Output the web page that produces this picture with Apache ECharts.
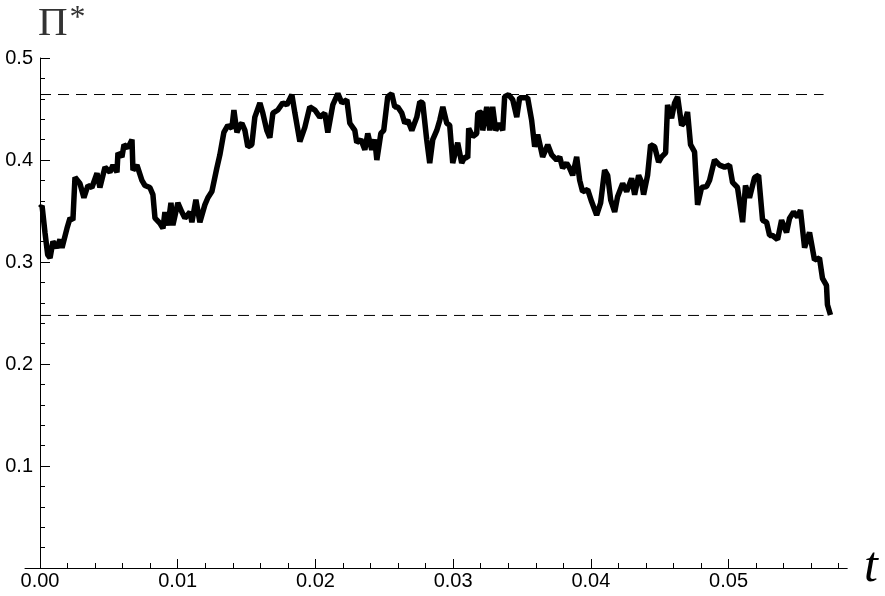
<!DOCTYPE html>
<html>
<head>
<meta charset="utf-8">
<script src="https://cdn.jsdelivr.net/npm/echarts@6/dist/echarts.min.js"></script>
<style>
html,body{margin:0;padding:0;background:#fff;}
#chart{width:885px;height:596px;}
</style>
</head>
<body>
<div id="chart"></div>
<script>
// time values t
var tValues = [
0,0.00015,0.00036,0.00056,0.00073,0.00094,0.00123,0.00145,0.00160,0.00196,
0.00218,0.00239,0.00254,0.00290,0.00319,0.00348,0.00377,0.00414,0.00435,0.00472,
0.00508,0.00530,0.00559,0.00566,0.00595,0.00610,0.00639,0.00668,0.00675,0.00704,
0.00740,0.00762,0.00798,0.00820,0.00835,0.00871,0.00893,0.00907,0.00929,0.00951,
0.00965,0.01001,0.01030,0.01052,0.01089,0.01103,0.01132,0.01161,0.01197,0.01219,
0.01248,0.01284,0.01306,0.01335,0.01364,0.01393,0.01408,0.01430,0.01451,
0.01466,0.01488,0.01509,0.01538,0.01560,0.01597,0.01618,0.01647,0.01669,0.01691,
0.01727,0.01763,0.01792,0.01829,0.01851,0.01887,0.01923,0.01959,0.01996,0.02032,
0.02068,0.02090,0.02126,0.02163,0.02192,0.02228,0.02250,0.02286,0.02300,0.02330,
0.02359,0.02380,0.02409,0.02431,0.02446,0.02475,0.02496,0.02525,0.02554,0.02576,
0.02598,0.02627,0.02649,0.02671,0.02700,0.02736,0.02758,0.02779,0.02808,0.02830,
0.02852,0.02881,0.02903,
0.02925,0.02954,0.02975,0.02997,0.03033,0.03062,0.03084,0.03106,0.03113,0.03142,
0.03171,0.03179,0.03208,0.03215,0.03244,0.03266,0.03287,0.03309,0.03338,0.03360,
0.03374,0.03403,0.03433,0.03462,0.03483,0.03520,0.03541,0.03570,0.03592,0.03614,
0.03650,0.03687,0.03716,0.03752,0.03774,0.03795,0.03824,0.03846,0.03868,0.03897,
0.03919,0.03940,0.03977,0.04006,0.04042,0.04071,0.04100,0.04122,0.04144,0.04173,
0.04194,0.04231,0.04260,0.04296,0.04318,0.04347,
0.04369,0.04383,0.04412,0.04434,0.04463,0.04492,0.04514,0.04543,0.04557,0.04586,
0.04608,0.04630,0.04659,0.04681,0.04702,0.04724,0.04753,0.04775,0.04804,0.04840,
0.04862,0.04898,0.04935,0.04971,0.05007,0.05029,0.05065,0.05102,0.05123,0.05152,
0.05189,0.05218,0.05247,0.05276,0.05298,0.05319,0.05356,0.05385,0.05421,0.05443,
0.05472,0.05501,0.05522,0.05552,0.05588,0.05624,0.05660,0.05682,0.05711,0.05718,
0.05740
];
// Pi* values
var piValues = [
0.353,0.355,0.329,0.307,0.304,0.320,0.314,0.322,0.314,0.333,
0.343,0.341,0.383,0.377,0.363,0.375,0.373,0.387,0.373,0.393,
0.388,0.395,0.388,0.407,0.403,0.415,0.412,0.420,0.390,0.395,
0.380,0.375,0.373,0.366,0.343,0.338,0.333,0.349,0.336,0.358,
0.336,0.358,0.349,0.343,0.349,0.339,0.361,0.339,0.356,0.363,
0.369,0.392,0.405,0.427,0.434,0.431,0.449,0.427,0.434,
0.436,0.429,0.413,0.415,0.442,0.456,0.446,0.429,0.422,0.446,
0.449,0.456,0.454,0.464,0.446,0.418,0.432,0.452,0.449,0.442,
0.446,0.427,0.454,0.465,0.456,0.459,0.436,0.429,0.417,0.420,
0.410,0.426,0.410,0.420,0.400,0.426,0.429,0.462,0.465,0.452,
0.452,0.446,0.436,0.439,0.429,0.442,0.457,0.456,0.420,0.397,
0.420,0.429,0.439,
0.452,0.436,0.434,0.397,0.417,0.397,0.403,0.402,0.431,0.423,
0.426,0.446,0.447,0.429,0.452,0.429,0.452,0.429,0.436,0.429,
0.462,0.464,0.459,0.442,0.461,0.461,0.461,0.439,0.413,0.425,
0.403,0.415,0.405,0.400,0.403,0.392,0.397,0.392,0.385,0.403,
0.380,0.369,0.371,0.359,0.346,0.358,0.390,0.385,0.361,0.349,
0.364,0.377,0.369,0.382,0.366,0.385,
0.378,0.366,0.385,0.415,0.413,0.398,0.403,0.407,0.454,0.441,
0.456,0.462,0.434,0.437,0.447,0.415,0.408,0.356,0.373,0.374,
0.380,0.400,0.395,0.393,0.395,0.378,0.373,0.339,0.375,0.363,
0.383,0.385,0.341,0.339,0.326,0.326,0.322,0.341,0.329,0.343,
0.349,0.344,0.351,0.314,0.329,0.302,0.304,0.284,0.277,0.258,
0.248
];
// reference levels (dashed)
var upperLevel = 0.4642;
var lowerLevel = 0.2476;
var levelStart = 0;
var levelEnd = 0.0569;

// tick values
var xMajorTicks = [0, 0.01, 0.02, 0.03, 0.04, 0.05];
var xMinorTicks = [0.002,0.004,0.006,0.008,0.012,0.014,0.016,0.018,0.022,0.024,0.026,0.028,
  0.032,0.034,0.036,0.038,0.042,0.044,0.046,0.048,0.052,0.054,0.056,0.058];
var yMajorTicks = [0.1, 0.2, 0.3, 0.4, 0.5];
var yMinorTicks = [0.02,0.04,0.06,0.08,0.12,0.14,0.16,0.18,0.22,0.24,0.26,0.28,
  0.32,0.34,0.36,0.38,0.42,0.44,0.46,0.48];

var lineData = tValues.map(function (t, i) { return [t, piValues[i]]; });

var chart = echarts.init(document.getElementById('chart'), null, {renderer: 'canvas'});
var labelFont = {fontFamily: '"Liberation Sans", Arial, sans-serif', fontSize: 20, color: '#000'};
var serif = '"Liberation Serif", "Times New Roman", serif';

chart.setOption({
  animation: false,
  backgroundColor: '#fff',
  title: {
    text: '{a|Π}{b|*}',
    left: 33, top: -2,
    textStyle: {
      rich: {
        a: {fontFamily: serif, fontSize: 41, fontWeight: 'normal', color: '#333'},
        b: {fontFamily: serif, fontSize: 32, fontWeight: 'normal', color: '#333', verticalAlign: 'top', padding: [0,0,10,2]}
      }
    }
  },
  grid: [
    {left: 40, right: 38, top: 58, bottom: 28, containLabel: false, outerBoundsMode: 'none'},
    {left: 25, right: 38, top: 58, bottom: 28, containLabel: false, outerBoundsMode: 'none'}
  ],
  xAxis: [{
    gridIndex: 0, type: 'value', min: 0, max: 0.0586, position: 'bottom',
    axisLine: {show: true, onZero: false, lineStyle: {color: '#000', width: 1}},
    axisTick: {show: true, inside: true, length: 9, customValues: xMajorTicks, lineStyle: {color: '#000', width: 1}},
    axisLabel: Object.assign({show: true, margin: 3, customValues: xMajorTicks,
      formatter: function (v) { return v.toFixed(2); }}, labelFont),
    splitLine: {show: false},
    name: 't', nameLocation: 'end', nameGap: 17,
    nameTextStyle: {fontFamily: serif, fontStyle: 'italic', fontSize: 50, color: '#000', padding: [0,0,14,0]}
  }, {
    gridIndex: 0, type: 'value', min: 0, max: 0.0586, position: 'bottom',
    axisLine: {show: false, onZero: false},
    axisTick: {show: true, inside: true, length: 5, customValues: xMinorTicks, lineStyle: {color: '#000', width: 1}},
    axisLabel: {show: false},
    splitLine: {show: false}
  }, {
    gridIndex: 1, type: 'value', min: 0, max: 1, position: 'bottom',
    axisLine: {show: true, onZero: false, lineStyle: {color: '#000', width: 1}},
    axisTick: {show: false},
    axisLabel: {show: false},
    splitLine: {show: false}
  }],
  yAxis: [{
    gridIndex: 0, type: 'value', min: 0, max: 0.5, position: 'left',
    axisLine: {show: true, onZero: false, lineStyle: {color: '#000', width: 1}},
    axisTick: {show: true, inside: true, length: 10, customValues: yMajorTicks, lineStyle: {color: '#000', width: 1}},
    axisLabel: Object.assign({show: true, margin: 7, customValues: yMajorTicks,
      formatter: function (v) { return v.toFixed(1); }}, labelFont),
    splitLine: {show: false}
  }, {
    gridIndex: 0, type: 'value', min: 0, max: 0.5, position: 'left',
    axisLine: {show: false, onZero: false},
    axisTick: {show: true, inside: true, length: 5, customValues: yMinorTicks, lineStyle: {color: '#000', width: 1}},
    axisLabel: {show: false},
    splitLine: {show: false}
  }, {
    gridIndex: 1, type: 'value', min: 0, max: 1, show: false
  }],
  series: [{
    type: 'line', xAxisIndex: 0, yAxisIndex: 0,
    data: [[levelStart, upperLevel], [levelEnd, upperLevel]],
    symbol: 'none', silent: true, z: 1,
    lineStyle: {color: '#000', width: 1, type: [11, 7]}
  }, {
    type: 'line', xAxisIndex: 0, yAxisIndex: 0,
    data: [[levelStart, lowerLevel], [levelEnd, lowerLevel]],
    symbol: 'none', silent: true, z: 1,
    lineStyle: {color: '#000', width: 1, type: [11, 7]}
  }, {
    type: 'line', xAxisIndex: 0, yAxisIndex: 0,
    data: lineData,
    symbol: 'none', silent: true, z: 3,
    lineStyle: {color: '#000', width: 5.5, join: 'bevel'}
  }]
});
</script>
</body>
</html>
